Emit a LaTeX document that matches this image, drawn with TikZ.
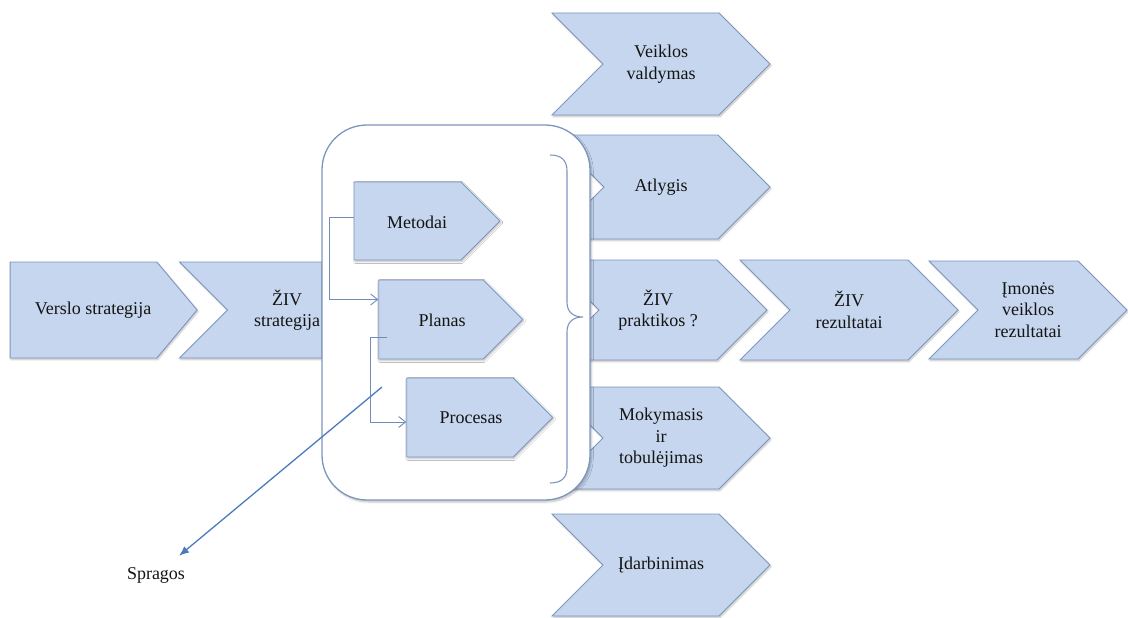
\documentclass[tikz,border=0pt]{standalone}
\usepackage{fontspec}
\setmainfont{Liberation Serif}
\usetikzlibrary{shapes.symbols,arrows.meta,shadows.blur}
\definecolor{chevfill}{RGB}{197,214,238}
\definecolor{chevline}{RGB}{126,150,190}
\definecolor{linkline}{RGB}{112,140,186}
\definecolor{gaparrow}{RGB}{74,124,187}
\definecolor{txt}{RGB}{20,20,20}

\begin{document}
\begin{tikzpicture}[x=1pt,y=-1pt,
  font=\fontsize{18}{21.5}\selectfont, text=txt,
  block/.style={shape=signal, draw=chevline, fill=chevfill, line width=0.9pt,
    signal pointer angle=90, inner sep=0pt, align=center,
    blur shadow={shadow xshift=1pt, shadow yshift=-1.5pt, shadow blur steps=6, shadow opacity=25}},
  chev/.style={block, signal from=west, signal to=east},
  pent/.style={block, signal to=east},
  lbl/.style={inner sep=0pt, align=center},
  groupbox/.style={draw=chevline, fill=white, line width=1.3pt, rounded corners=45pt,
    minimum width=268pt, minimum height=375pt, inner sep=0pt,
    blur shadow={shadow xshift=1.5pt, shadow yshift=-2pt, shadow blur steps=6, shadow opacity=25}},
  link/.style={draw=linkline, line width=0.9pt, -{Straight Barb[length=7pt,width=11pt]}},
  gap/.style={draw=gaparrow, line width=1.3pt, -{Latex[length=10pt,width=8pt]}}
]
\useasboundingbox (0,0) rectangle (1128,618);

% right column of practices
\node[chev, minimum width=218pt, minimum height=102pt] (veikla)  at (661,64)  {Veiklos\\valdymas};
\node[chev, minimum width=218pt, minimum height=104pt] (atlygis) at (661,187) {Atlygis};
\node[chev, minimum width=218pt, minimum height=102pt] (mokym)   at (661,438) {Mokymasis\\ir\\tobulėjimas};
\node[chev, minimum width=218pt, minimum height=102pt] (idarb)   at (661,565) {Įdarbinimas};

% main chain (a one-sided arrow is placed by the centre of its body)
\node[pent, minimum width=187pt, minimum height=96pt, signal pointer angle=100] (verslo) at (83.5,310) {};
\node[lbl] (verslo-t) at (93,310) {Verslo strategija};
\node[chev, minimum width=215pt, minimum height=96pt] (zivstr) at (287,310) {ŽIV\\strategija};
\node[chev, minimum width=218pt, minimum height=100pt] (praktikos) at (658,310) {ŽIV\\praktikos ?};
\node[chev, minimum width=218pt, minimum height=100pt] (rezult) at (849,310) {ŽIV\\rezultatai};
\node[chev, minimum width=198pt, minimum height=98pt] (imones) at (1028,310) {Įmonės\\veiklos\\rezultatai};

% strategy framework box
\node[groupbox] (grp) at (456,312.5) {};

\node[pent, minimum width=146pt, minimum height=78pt] (metodai) at (407.5,221) {};
\node[lbl] (metodai-t) at (417,222) {Metodai};
\node[pent, minimum width=144pt, minimum height=79pt] (planas) at (431,319.5) {};
\node[lbl] (planas-t) at (442,320) {Planas};
\node[pent, minimum width=146pt, minimum height=79pt] (procesas) at (460,417.5) {};
\node[lbl] (procesas-t) at (471,418) {Procesas};

% links between the framework parts
\draw[link] ([yshift=4pt]metodai.west) -- ++(-24,0) |- ([yshift=20pt]planas.west);
\draw[link] ([xshift=9pt,yshift=-17.5pt]planas.west) -- ++(-17,0) |- ([yshift=-4.5pt]procesas.west);

% brace gathering the framework
\draw[draw=chevline, line width=1.1pt]
  (550,155) .. controls (561,155) and (567,160) .. (567,171)
  -- (567,302) .. controls (567,312) and (573,317) .. (583,317)
  .. controls (573,317) and (567,322) .. (567,332)
  -- (567,468) .. controls (567,478) and (561,483) .. (550,483);

% gaps
\node[lbl] (spragos) at (156,575) {Spragos};
\coordinate (gapstart) at (382,387);
\draw[gap, shorten >=30pt] (gapstart) -- (spragos.center);
\end{tikzpicture}
\end{document}
